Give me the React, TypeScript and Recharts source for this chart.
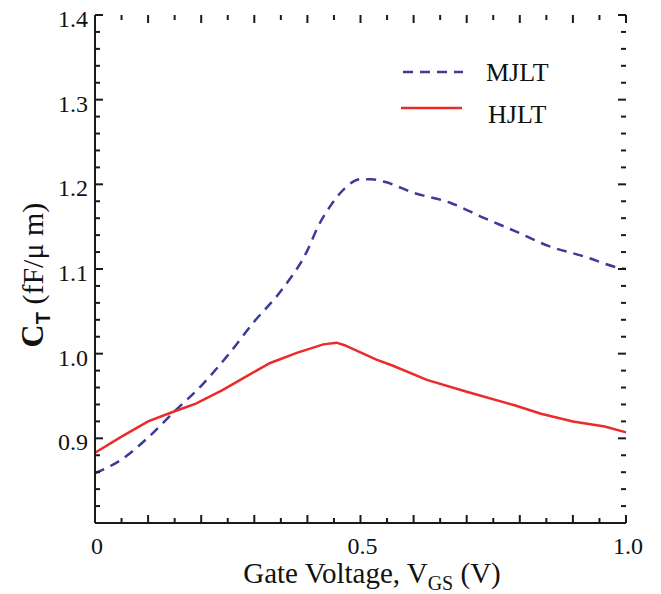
import React from 'react';
import { LineChart, Line, XAxis, YAxis, Legend } from 'recharts';

const mjltV = [0, 0.05, 0.1, 0.15, 0.2, 0.25, 0.3, 0.35, 0.4, 0.42, 0.445, 0.47, 0.5, 0.52, 0.545, 0.6, 0.67, 0.73, 0.79, 0.855, 0.92, 0.99, 1.0];
const mjltC = [0.859, 0.875, 0.901, 0.932, 0.962, 0.998, 1.038, 1.074, 1.122, 1.150, 1.176, 1.195, 1.206, 1.206, 1.203, 1.190, 1.178, 1.161, 1.145, 1.127, 1.115, 1.101, 1.100];

const hjltV = [0, 0.05, 0.1, 0.15, 0.19, 0.24, 0.29, 0.33, 0.38, 0.43, 0.455, 0.47, 0.53, 0.56, 0.625, 0.7, 0.79, 0.84, 0.9, 0.96, 1.0];
const hjltC = [0.883, 0.902, 0.920, 0.932, 0.941, 0.957, 0.975, 0.989, 1.001, 1.011, 1.013, 1.010, 0.993, 0.986, 0.969, 0.955, 0.939, 0.929, 0.920, 0.914, 0.907];

const xTicks = [0, 0.05, 0.1, 0.15, 0.2, 0.25, 0.3, 0.35, 0.4, 0.45, 0.5, 0.55, 0.6, 0.65, 0.7, 0.75, 0.8, 0.85, 0.9, 0.95, 1.0];
const xTickLabels = ['0', '0.5', '1.0'];
const xLabelValues = [0, 0.5, 1.0];
const yTicks = [0.8, 0.82, 0.84, 0.86, 0.88, 0.9, 0.92, 0.94, 0.96, 0.98, 1.0, 1.02, 1.04, 1.06, 1.08, 1.1, 1.12, 1.14, 1.16, 1.18, 1.2, 1.22, 1.24, 1.26, 1.28, 1.3, 1.32, 1.34, 1.36, 1.38, 1.4];
const yTickLabels = ['0.9', '1.0', '1.1', '1.2', '1.3', '1.4'];
const yLabelValues = [0.9, 1.0, 1.1, 1.2, 1.3, 1.4];

const mjltData = mjltV.map((v, i) => ({ v, c: mjltC[i] }));
const hjltData = hjltV.map((v, i) => ({ v, c: hjltC[i] }));

const W = 661;
const H = 594;
const LEFT = 95;
const RIGHT = 626;
const TOP = 15;
const BOTTOM = 523;
const FONT = '"Liberation Serif", "Times New Roman", serif';
const BLUE = '#3b3b98';
const RED = '#ec2a2a';
const AXIS = '#1a1a1a';

const near = (a: number, b: number) => Math.abs(a - b) < 1e-6;
const isMajor = (v: number) => near(v * 10, Math.round(v * 10));

const BottomTick = (props: any) => {
  const { x, payload } = props;
  const v = payload.value as number;
  const len = isMajor(v) ? 8 : 5;
  const idx = xLabelValues.findIndex((l) => near(l, v));
  return (
    <g>
      <line x1={x} x2={x} y1={BOTTOM} y2={BOTTOM - len} stroke={AXIS} strokeWidth={2} />
      <line x1={x} x2={x} y1={TOP} y2={TOP + len} stroke={AXIS} strokeWidth={2} />
      {idx >= 0 && (
        <text x={x + 2} y={BOTTOM + 31} textAnchor="middle" fontFamily={FONT} fontSize={24} fill="#111">
          {xTickLabels[idx]}
        </text>
      )}
    </g>
  );
};

const LeftTick = (props: any) => {
  const { y, payload } = props;
  const v = payload.value as number;
  const len = isMajor(v) ? 8 : 5;
  const idx = yLabelValues.findIndex((l) => near(l, v));
  return (
    <g>
      <line x1={LEFT} x2={LEFT + len} y1={y} y2={y} stroke={AXIS} strokeWidth={2} />
      <line x1={RIGHT} x2={RIGHT - len} y1={y} y2={y} stroke={AXIS} strokeWidth={2} />
      {idx >= 0 && (
        <text x={LEFT - 7} y={y + 12} textAnchor="end" fontFamily={FONT} fontSize={24} fill="#111">
          {yTickLabels[idx]}
        </text>
      )}
    </g>
  );
};

const LegendContent = () => (
  <svg width={200} height={90} style={{ display: 'block' }}>
    <line x1={8} x2={68} y1={22} y2={22} stroke={BLUE} strokeWidth={2.5} strokeDasharray="10 7" />
    <text x={91} y={31} fontFamily={FONT} fontSize={26} fill="#111">MJLT</text>
    <line x1={6} x2={67} y1={58} y2={58} stroke={RED} strokeWidth={2.5} />
    <text x={93} y={73} fontFamily={FONT} fontSize={26} fill="#111">HJLT</text>
  </svg>
);

export default function App() {
  return (
    <div style={{ position: 'absolute', left: 0, top: 0, width: W, height: H, background: '#fff' }}>
      <LineChart width={W} height={H} margin={{ top: TOP, right: W - RIGHT, bottom: 0, left: 0 }}>
        <XAxis
          dataKey="v"
          type="number"
          domain={[0, 1]}
          ticks={xTicks}
          interval={0}
          height={H - BOTTOM}
          tick={<BottomTick />}
          tickLine={false}
          axisLine={{ stroke: AXIS, strokeWidth: 2 }}
          allowDuplicatedCategory={false}
        />
        <XAxis
          xAxisId="top"
          orientation="top"
          dataKey="v"
          type="number"
          domain={[0, 1]}
          height={0}
          tick={false}
          tickLine={false}
          axisLine={{ stroke: AXIS, strokeWidth: 2 }}
        />
        <YAxis
          type="number"
          domain={[0.8, 1.4]}
          ticks={yTicks}
          interval={0}
          width={LEFT}
          tick={<LeftTick />}
          tickLine={false}
          axisLine={{ stroke: AXIS, strokeWidth: 2 }}
        />
        <YAxis
          yAxisId="right"
          orientation="right"
          type="number"
          domain={[0.8, 1.4]}
          width={0}
          tick={false}
          tickLine={false}
          axisLine={{ stroke: AXIS, strokeWidth: 2 }}
        />
        <Legend
          layout="horizontal"
          verticalAlign="middle"
          align="center"
          content={<LegendContent />}
          wrapperStyle={{ position: 'absolute', top: 50, left: 395, width: 200, height: 90 }}
        />
        <Line
          data={mjltData}
          dataKey="c"
          name="MJLT"
          type="monotone"
          stroke={BLUE}
          strokeWidth={2.5}
          strokeDasharray="10 7"
          dot={false}
          isAnimationActive={false}
        />
        <Line
          data={hjltData}
          dataKey="c"
          name="HJLT"
          type="linear"
          stroke={RED}
          strokeWidth={2.5}
          dot={false}
          isAnimationActive={false}
        />
        <text x={372} y={583} textAnchor="middle" fontFamily={FONT} fontSize={29} fill="#111">
          Gate Voltage, V
          <tspan fontSize={20} dy={7}>GS</tspan>
          <tspan dy={-7}> (V)</tspan>
        </text>
        <text
          transform="rotate(-90, 43, 275)"
          x={43}
          y={275}
          textAnchor="middle"
          fontFamily={FONT}
          fontSize={30}
          fill="#111"
        >
          <tspan fontWeight="bold" fontSize={32}>C</tspan>
          <tspan fontWeight="bold" fontFamily='"Liberation Sans", Arial, sans-serif' fontSize={20} dy={7}>T</tspan>
          <tspan dy={-7}> (fF/μ m)</tspan>
        </text>
      </LineChart>
    </div>
  );
}
